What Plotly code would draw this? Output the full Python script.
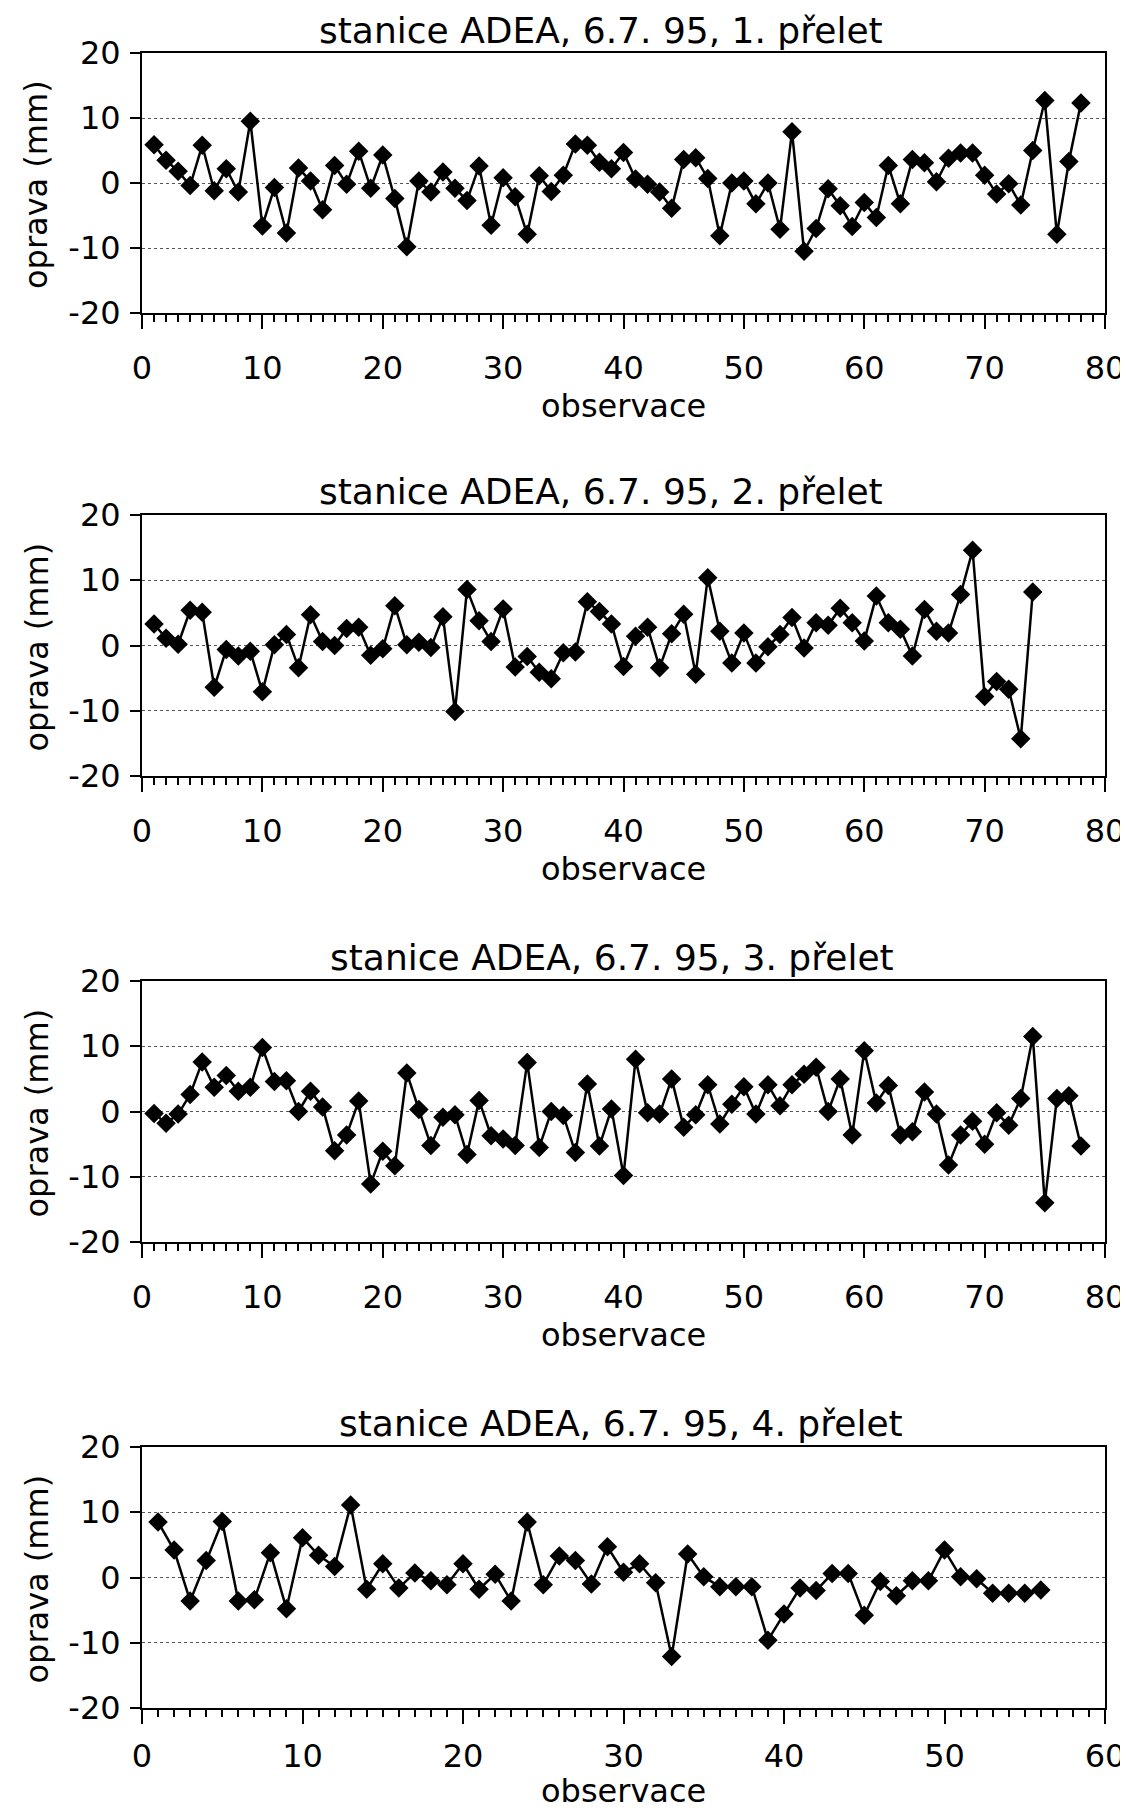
import plotly.graph_objects as go

# --- data: opravy (mm) pro jednotlivé přelety ---
oprava1 = [5.9, 3.5, 1.8, -0.4, 5.8, -1.2, 2.2, -1.4, 9.5, -6.6,
           -0.7, -7.7, 2.3, 0.3, -4.1, 2.7, -0.2, 4.9, -0.8, 4.3,
           -2.4, -9.8, 0.3, -1.4, 1.7, -0.8, -2.7, 2.6, -6.5, 0.8,
           -2.1, -7.9, 1.1, -1.3, 1.2, 6.0, 5.8, 3.2, 2.2, 4.7,
           0.6, -0.2, -1.4, -3.9, 3.6, 3.9, 0.7, -8.1, 0.0, 0.3,
           -3.2, 0.0, -7.1, 7.9, -10.5, -7.0, -0.9, -3.5, -6.7, -3.0,
           -5.3, 2.7, -3.2, 3.6, 3.1, 0.2, 3.8, 4.6, 4.6, 1.2,
           -1.7, -0.1, -3.4, 5.0, 12.7, -7.9, 3.3, 12.3]

oprava2 = [3.3, 1.1, 0.2, 5.4, 5.1, -6.4, -0.6, -1.6, -0.9, -7.1,
           0.1, 1.7, -3.4, 4.7, 0.6, 0.0, 2.6, 2.8, -1.5, -0.5,
           6.1, 0.1, 0.5, -0.3, 4.4, -10.1, 8.6, 3.8, 0.6, 5.6,
           -3.3, -1.7, -4.1, -5.1, -1.1, -1.0, 6.7, 5.2, 3.3, -3.2,
           1.4, 2.8, -3.4, 1.8, 4.8, -4.4, 10.4, 2.2, -2.7, 1.9,
           -2.7, -0.2, 1.7, 4.3, -0.4, 3.5, 3.1, 5.7, 3.5, 0.7,
           7.6, 3.5, 2.5, -1.6, 5.5, 2.2, 1.9, 7.8, 14.6, -7.8,
           -5.5, -6.7, -14.3, 8.2]

oprava3 = [-0.3, -1.8, -0.4, 2.6, 7.6, 3.7, 5.5, 3.1, 3.7, 9.8,
           4.6, 4.7, 0.0, 3.1, 0.7, -6.0, -3.6, 1.6, -11.1, -6.1,
           -8.3, 5.9, 0.3, -5.2, -0.9, -0.5, -6.6, 1.7, -3.7, -4.2,
           -5.2, 7.5, -5.5, 0.0, -0.6, -6.3, 4.2, -5.3, 0.4, -9.8,
           8.0, -0.2, -0.4, 5.0, -2.4, -0.5, 4.1, -1.9, 1.1, 3.8,
           -0.4, 4.1, 0.9, 4.1, 5.7, 6.8, 0.0, 5.0, -3.6, 9.3,
           1.3, 4.0, -3.6, -3.1, 3.0, -0.4, -8.2, -3.6, -1.5, -5.0,
           -0.2, -2.1, 2.0, 11.5, -14.0, 2.0, 2.4, -5.3]

oprava4 = [8.5, 4.2, -3.6, 2.6, 8.6, -3.6, -3.4, 3.8, -4.8, 6.1,
           3.4, 1.7, 11.1, -1.8, 2.1, -1.6, 0.7, -0.5, -1.1, 2.1,
           -1.8, 0.5, -3.6, 8.5, -1.1, 3.3, 2.6, -1.0, 4.7, 0.8,
           2.1, -0.8, -12.1, 3.6, 0.1, -1.4, -1.4, -1.4, -9.6, -5.6,
           -1.6, -2.0, 0.6, 0.6, -5.8, -0.6, -2.8, -0.5, -0.5, 4.2,
           0.1, -0.2, -2.4, -2.4, -2.4, -1.9]

serie = [oprava1, oprava2, oprava3, oprava4]
titulky = ["stanice ADEA, 6.7. 95, 1. přelet",
           "stanice ADEA, 6.7. 95, 2. přelet",
           "stanice ADEA, 6.7. 95, 3. přelet",
           "stanice ADEA, 6.7. 95, 4. přelet"]
x_max = [80, 80, 80, 60]
y_ticks = [-20, -10, 0, 10, 20]
y_ticktext = ["-20", "-10", "0", "10", "20"]

# --- rozvržení (v pixelech stránky; graf je na stránce posunut o 8 px) ---
OFF = 8
W, H = 1128 - OFF, 1820 - 2 * OFF
FONT = "DejaVu Sans, Liberation Sans, Arial, sans-serif"
left_px, right_px = 142, 1105
boxy = [(53, 313), (515, 776), (981, 1242), (1447, 1708)]
title_x = [601, 601, 612, 621]
xtitle_gap = [93, 93, 93, None]   # poslední popis je u spodního okraje
label_standoff = [12, 12, 12, 5]


def py(v):
    return 1 - (v - OFF) / H


def px(v):
    return (v - OFF) / W


fig = go.Figure()
annotations = []

for i, (y_data, top_bot) in enumerate(zip(serie, boxy)):
    k = "" if i == 0 else str(i + 1)
    top, bot = top_bot
    fig.add_trace(go.Scatter(
        x=list(range(1, len(y_data) + 1)), y=y_data,
        mode="lines+markers",
        line=dict(color="black", width=2.5),
        marker=dict(symbol="diamond", size=15, color="black"),
        xaxis="x" + k, yaxis="y" + k, showlegend=False,
        hoverinfo="x+y"
    ))

    fig.layout["xaxis" + k] = dict(
        domain=[px(left_px), px(right_px)], anchor="y" + k,
        range=[0, x_max[i]], dtick=10, tick0=0,
        ticks="outside", ticklen=14, tickwidth=2, tickcolor="black",
        minor=dict(dtick=1, ticks="outside", ticklen=7, tickwidth=1.5,
                   tickcolor="black"),
        ticklabelstandoff=label_standoff[i], automargin=False,
        showline=True, linecolor="black", linewidth=2, mirror=True,
        showgrid=False, zeroline=False,
        tickfont=dict(family=FONT, size=32, color="black"),
    )
    fig.layout["yaxis" + k] = dict(
        domain=[py(bot), py(top)], anchor="x" + k,
        range=[-20, 20], tickvals=y_ticks, ticktext=y_ticktext,
        ticks="outside", ticklen=10, tickwidth=2, tickcolor="black",
        ticklabelstandoff=3, automargin=False,
        showline=True, linecolor="black", linewidth=2, mirror=True,
        showgrid=True, gridcolor="#555555", griddash="dot", gridwidth=1,
        zeroline=False,
        tickfont=dict(family=FONT, size=32, color="black"),
    )

    # název grafu
    annotations.append(dict(
        text=titulky[i], x=px(title_x[i]), y=min(py(top - 46), 1.0),
        xref="paper", yref="paper", xanchor="center", yanchor="top",
        showarrow=False, font=dict(family=FONT, size=36, color="black")))
    # popis osy x
    if xtitle_gap[i] is None:
        obs_y, obs_anchor = 0.0, "bottom"
    else:
        obs_y, obs_anchor = py(bot + xtitle_gap[i]), "middle"
    annotations.append(dict(
        text="observace", x=px((left_px + right_px) / 2), y=obs_y,
        xref="paper", yref="paper", xanchor="center", yanchor=obs_anchor,
        showarrow=False, font=dict(family=FONT, size=32, color="black")))
    # popis osy y
    annotations.append(dict(
        text="oprava (mm)", x=px(36), y=py((top + bot) / 2 + 2),
        xref="paper", yref="paper", xanchor="center", yanchor="middle",
        textangle=-90,
        showarrow=False, font=dict(family=FONT, size=32, color="black")))

fig.update_layout(
    width=W, height=H,
    margin=dict(l=0, r=0, t=0, b=0),
    paper_bgcolor="white", plot_bgcolor="white",
    annotations=annotations,
    font=dict(family=FONT, color="black"),
)

fig.write_html("out.html")
